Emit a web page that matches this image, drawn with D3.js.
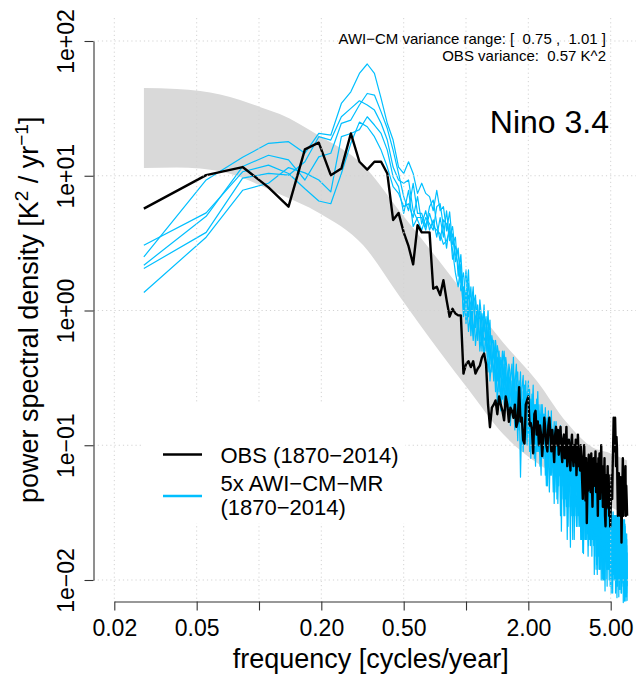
<!DOCTYPE html>
<html><head><meta charset="utf-8">
<script src="https://cdn.jsdelivr.net/npm/d3@7"></script>
<style>body{margin:0;background:#fff}svg{display:block}text{font-family:"Liberation Sans",Arial,Helvetica,sans-serif;fill:#000}</style>
</head><body><svg id="c" width="636" height="675"></svg>
<script>
// frequency grid: k * (1/36) cycles/year, k = 1..216
const freqStep = 1/36;

const obs = [
5.7,10.1,11.6,8.2,5.9,15.7,17.6,10.1,11.3,20.6,
12.7,11.1,12.7,12.7,10.4,4.7,5.3,3.8,3.0,2.2,
4.3,3.8,3.8,3.8,1.45,1.5,1.3,1.68,1.2,0.9,
1.03,0.95,0.92,0.92,0.34,0.40,0.42,0.38,0.42,0.34,
0.37,0.39,0.45,0.48,0.40,0.2,0.136,0.19,0.2,0.215,
0.17,0.23,0.2,0.18,0.153,0.23,0.2,0.149,0.19,0.18,
0.16,0.2,0.137,0.15,0.27,0.15,0.16,0.109,0.103,0.2,
0.215,0.23,0.14,0.146,0.13,0.087,0.17,0.18,0.12,0.15,
0.1,0.14,0.12,0.083,0.11,0.16,0.13,0.1,0.09,0.14,
0.16,0.12,0.09,0.13,0.1,0.075,0.12,0.137,0.1,0.13,
0.085,0.11,0.137,0.09,0.075,0.11,0.12,0.08,0.1,0.137,
0.07,0.09,0.11,0.08,0.065,0.1,0.12,0.085,0.07,0.1,
0.075,0.11,0.06,0.085,0.12,0.07,0.09,0.065,0.1,0.08,
0.055,0.04,0.075,0.1,0.06,0.039,0.08,0.0265,0.05,0.046,
0.085,0.06,0.07,0.045,0.087,0.055,0.035,0.07,0.08,0.05,
0.065,0.09,0.045,0.073,0.06,0.03,0.08,0.05,0.087,0.04,
0.06,0.1,0.045,0.07,0.035,0.065,0.05,0.08,0.03,0.025,
0.06,0.034,0.045,0.07,0.04,0.06,0.03,0.05,0.025,0.034,
0.045,0.06,0.04,0.07,0.1,0.16,0.09,0.12,0.16,0.109,
0.07,0.115,0.094,0.05,0.03,0.04,0.062,0.045,0.054,0.03,
0.058,0.04,0.019,0.035,0.05,0.08,0.03,0.045,0.062,0.038,
0.055,0.07,0.03,0.05,0.04,0.03];

const awi1 = [
3.05,5.3,10.7,12.0,10.4,8.0,6.5,6.2,10.4,17.4,
25,23.1,19.5,15.5,11.6,8.3,7.4,5.9,6.2,4.9,
7.0,4.4,5.5,3.95,4.7,3.5,4.9,3.5,5.5,3.3,
3.7,2.3,2.9,1.6,1.9,1.1,1.6,0.8,1.3,0.75,
1.1,0.6,0.95,0.7,0.9,0.45,0.7,0.55,0.3,0.6,
0.42,0.25,0.45,0.38,0.5,0.3,0.22,0.4,0.33,0.18,
0.35,0.27,0.4,0.2,0.3,0.15,0.26,0.33,0.12,0.24,
0.2,0.3,0.14,0.22,0.17,0.28,0.1,0.2,0.15,0.25,
0.11,0.17,0.08,0.2,0.14,0.09,0.19,0.12,0.16,0.07,
0.15,0.11,0.18,0.08,0.13,0.06,0.1,0.15,0.085,0.12,
0.05,0.1,0.14,0.07,0.11,0.04,0.09,0.12,0.06,0.1,
0.05,0.085,0.035,0.09,0.07,0.1,0.04,0.075,0.055,0.09,
0.03,0.07,0.05,0.085,0.04,0.065,0.025,0.07,0.05,0.08,
0.03,0.06,0.045,0.02,0.055,0.07,0.03,0.05,0.065,0.025,
0.045,0.06,0.02,0.05,0.035,0.06,0.02,0.045,0.03,0.055,
0.015,0.04,0.05,0.025,0.045,0.018,0.035,0.05,0.02,0.04,
0.012,0.035,0.045,0.02,0.03,0.04,0.014,0.035,0.025,0.04,
0.01,0.03,0.02,0.035,0.015,0.03,0.022,0.035,0.009,0.025,
0.03,0.014,0.028,0.02,0.032,0.011,0.025,0.018,0.03,0.008,
0.022,0.028,0.012,0.026,0.018,0.03,0.0075,0.022,0.015,0.028,
0.01,0.02,0.026,0.009,0.02,0.027,0.012,0.024,0.007,0.018,
0.025,0.015,0.011,0.02,0.008,0.016];

const awi2 = [
2.5,9.3,13.7,17.4,17.9,14.7,20.6,20.0,34.4,42,
57.5,67.5,57.5,37.5,24.5,18.4,11.6,10.4,12.7,10.4,
7.4,8.8,7.4,7.0,5.5,7.8,5.5,5.9,3.9,5.4,
3.1,3.5,1.8,2.6,1.2,2.0,0.9,1.5,0.65,1.2,
0.8,1.05,0.5,0.85,0.55,1.0,0.4,0.65,0.5,0.3,
0.55,0.45,0.2,0.4,0.28,0.45,0.35,0.18,0.3,0.4,
0.2,0.3,0.15,0.28,0.2,0.35,0.12,0.25,0.18,0.3,
0.1,0.2,0.26,0.13,0.24,0.15,0.2,0.12,0.22,0.09,
0.18,0.13,0.2,0.1,0.17,0.12,0.07,0.15,0.1,0.18,
0.09,0.14,0.06,0.12,0.09,0.15,0.07,0.12,0.04,0.1,
0.13,0.06,0.1,0.08,0.05,0.1,0.075,0.03,0.09,0.065,
0.11,0.045,0.08,0.06,0.09,0.03,0.06,0.08,0.04,0.1,
0.05,0.035,0.075,0.06,0.07,0.035,0.08,0.04,0.06,0.02,
0.055,0.07,0.03,0.06,0.03,0.045,0.06,0.02,0.05,0.04,
0.065,0.02,0.045,0.03,0.055,0.025,0.04,0.06,0.018,0.035,
0.045,0.02,0.04,0.05,0.02,0.04,0.03,0.012,0.035,0.045,
0.02,0.03,0.015,0.04,0.025,0.032,0.012,0.03,0.04,0.015,
0.025,0.035,0.009,0.028,0.03,0.02,0.01,0.028,0.035,0.015,
0.022,0.012,0.03,0.024,0.01,0.026,0.03,0.015,0.02,0.027,
0.009,0.024,0.018,0.03,0.012,0.022,0.026,0.0085,0.02,0.016,
0.028,0.011,0.022,0.018,0.026,0.0095,0.02,0.015,0.028,0.01,
0.02,0.0075,0.018,0.012,0.022,0.009];

const awi3 = [
2.17,5.0,11.7,14.2,13.1,9.3,13.8,14.7,24.5,25.9,
33.5,40.8,39.7,29.8,22.4,15.5,10.4,7.0,5.5,8.8,
5.25,5.25,4.2,5.9,6.6,4.4,3.3,4.7,4.4,3.5,
4.2,2.6,2.2,1.4,1.5,0.8,1.3,1.1,0.6,0.9,
1.0,0.5,0.75,0.6,0.65,0.35,0.55,0.4,0.5,0.25,
0.45,0.3,0.38,0.22,0.35,0.22,0.3,0.25,0.16,0.3,
0.22,0.13,0.25,0.19,0.13,0.24,0.2,0.09,0.22,0.15,
0.25,0.12,0.18,0.1,0.2,0.12,0.16,0.07,0.17,0.13,
0.09,0.16,0.11,0.14,0.08,0.13,0.1,0.05,0.12,0.09,
0.13,0.06,0.1,0.085,0.045,0.09,0.12,0.06,0.1,0.037,
0.08,0.06,0.1,0.023,0.07,0.09,0.05,0.075,0.04,0.085,
0.065,0.025,0.07,0.05,0.0175,0.06,0.045,0.07,0.03,0.055,
0.07,0.04,0.025,0.06,0.05,0.03,0.06,0.045,0.02,0.05,
0.04,0.06,0.0157,0.04,0.045,0.02,0.035,0.05,0.03,0.015,
0.04,0.03,0.05,0.018,0.04,0.03,0.05,0.02,0.035,0.011,
0.03,0.04,0.022,0.035,0.011,0.03,0.022,0.04,0.015,0.025,
0.035,0.01,0.028,0.02,0.035,0.014,0.025,0.02,0.0083,0.028,
0.02,0.012,0.03,0.018,0.025,0.012,0.03,0.02,0.014,0.026,
0.008,0.022,0.016,0.03,0.018,0.022,0.012,0.028,0.015,0.02,
0.025,0.01,0.0074,0.02,0.025,0.014,0.018,0.028,0.01,0.022,
0.015,0.024,0.008,0.02,0.014,0.022,0.0068,0.02,0.016,0.024,
0.009,0.018,0.007,0.015,0.02,0.01];

const awi4 = [
2.05,3.8,9.6,10.4,10.1,12.7,19.5,18.4,27.4,31.6,
36,33.5,30.7,24.5,18.4,11.6,9.3,8.8,9.3,5.5,
4.7,3.95,4.9,4.4,3.95,5.9,6.2,4.2,2.9,4.4,
2.4,3.0,2.6,1.9,1.0,1.4,0.7,1.0,1.5,0.55,
0.85,0.9,0.55,1.1,0.5,0.75,0.3,0.45,0.35,0.5,
0.2,0.4,0.32,0.5,0.2,0.38,0.25,0.32,0.14,0.25,
0.3,0.17,0.22,0.108,0.25,0.058,0.17,0.22,0.14,0.2,
0.12,0.24,0.09,0.17,0.13,0.19,0.08,0.15,0.1,0.17,
0.14,0.07,0.15,0.12,0.1,0.15,0.06,0.11,0.14,0.08,
0.045,0.1,0.13,0.07,0.11,0.037,0.09,0.07,0.11,0.05,
0.095,0.08,0.03,0.09,0.06,0.08,0.1,0.045,0.065,0.035,
0.075,0.1,0.05,0.065,0.05,0.08,0.065,0.02,0.06,0.045,
0.075,0.055,0.1,0.03,0.06,0.08,0.04,0.055,0.07,0.035,
0.05,0.025,0.065,0.05,0.035,0.06,0.045,0.07,0.022,0.055,
0.035,0.05,0.03,0.065,0.02,0.045,0.035,0.03,0.05,0.04,
0.022,0.05,0.03,0.013,0.035,0.045,0.015,0.025,0.04,0.03,
0.045,0.018,0.025,0.033,0.02,0.01,0.03,0.04,0.018,0.022,
0.033,0.015,0.025,0.012,0.02,0.035,0.025,0.012,0.03,0.02,
0.016,0.032,0.01,0.018,0.025,0.015,0.03,0.01,0.025,0.017,
0.03,0.014,0.024,0.009,0.02,0.027,0.012,0.03,0.018,0.0085,
0.022,0.03,0.014,0.025,0.01,0.018,0.028,0.014,0.022,0.007,
0.026,0.02,0.012,0.018,0.0075,0.014];

const awi5 = [
1.36,3.5,7.8,8.8,11.5,10.5,9.3,7.6,19.5,20.6,
22,27.4,23.8,20.6,15.5,9.8,8.3,5.25,7.8,4.2,
4.9,4.9,3.95,5.25,4.2,3.95,3.7,3.1,3.3,3.9,
2.8,1.9,1.5,2.2,0.9,1.2,2.0,0.65,1.1,1.3,
0.6,1.2,0.8,0.45,0.75,0.6,0.85,0.35,0.6,0.42,
0.3,0.5,0.18,0.3,0.4,0.27,0.18,0.35,0.24,0.2,
0.45,0.15,0.28,0.35,0.16,0.28,0.1,0.2,0.28,0.11,
0.17,0.15,0.22,0.08,0.16,0.22,0.13,0.18,0.09,0.13,
0.2,0.1,0.06,0.16,0.12,0.17,0.11,0.14,0.05,0.12,
0.1,0.07,0.15,0.1,0.07,0.12,0.08,0.045,0.13,0.08,
0.06,0.12,0.07,0.11,0.09,0.055,0.03,0.085,0.11,0.07,
0.02,0.06,0.09,0.11,0.075,0.045,0.09,0.05,0.08,0.02,
0.06,0.09,0.045,0.07,0.025,0.05,0.07,0.03,0.045,0.065,
0.04,0.016,0.05,0.07,0.04,0.05,0.02,0.06,0.04,0.05,
0.018,0.04,0.06,0.035,0.045,0.015,0.035,0.05,0.04,0.02,
0.055,0.03,0.012,0.04,0.03,0.05,0.025,0.03,0.012,0.035,
0.025,0.04,0.03,0.01,0.04,0.02,0.035,0.01,0.03,0.035,
0.018,0.028,0.04,0.02,0.012,0.026,0.018,0.03,0.022,0.035,
0.013,0.025,0.02,0.008,0.022,0.03,0.016,0.022,0.012,0.03,
0.02,0.016,0.03,0.014,0.028,0.01,0.024,0.015,0.025,0.012,
0.02,0.008,0.028,0.016,0.022,0.014,0.025,0.009,0.02,0.028,
0.012,0.022,0.016,0.009,0.018,0.007];

// grey envelope
const bandFreq  = [0.0278,0.04,0.052,0.081,0.101,0.126,0.195,0.318,0.48,0.75,1.03,1.51,2.2,3.08,4.11,4.8,6.0];
const bandUpper = [44.7,44.0,42.5,36.5,32.4,28.7,19.8,12.0,5.4,2.28,1.21,0.58,0.30,0.146,0.096,0.089,0.077];
const bandLower = [11.4,11.5,11.3,9.8,8.5,7.3,5.3,3.06,1.26,0.49,0.258,0.121,0.074,0.054,0.043,0.036,0.031];

const xTicks = [0.02,0.05,0.1,0.2,0.5,1,2,5];
const xTickLabels = ["0.02","0.05","","0.20","0.50","","2.00","5.00"];
const yTicks = [0.01,0.1,1,10,100];
const yTickLabels = ["1e\u221202","1e\u221201","1e+00","1e+01","1e+02"];

const awiSeries = [awi1,awi2,awi3,awi4,awi5];
const varianceText = ["AWI\u2212CM variance range: [  0.75 ,  1.01 ]","OBS variance:  0.57 K^2"];
const legendLabels = ["OBS (1870\u22122014)","5x AWI\u2212CM\u2212MR","(1870\u22122014)"];

const BLUE = "#00BFFF";
const svg = d3.select("#c");
const x = d3.scaleLog().domain([0.02,5]).range([114.3,610.7]);
const y = d3.scaleLog().domain([0.01,100]).range([580,41]);
const plotTop = 18, plotBottom = 601.5, plotLeft = 93.5, plotRight = 648;

const freq = obs.map((_,i)=>(i+1)*freqStep);

// band
const bandData = bandFreq.map((f,i)=>({f, u:bandUpper[i], l:bandLower[i]}));
svg.append("path").datum(bandData)
  .attr("d", d3.area().x(d=>x(d.f)).y0(d=>y(d.l)).y1(d=>y(d.u)).curve(d3.curveMonotoneX))
  .attr("fill","#d9d9d9");

const line = d3.line().x((d,i)=>x(freq[i])).y(d=>y(d));
awiSeries.forEach(s=>{
  svg.append("path").datum(s).attr("d",line).attr("fill","none")
    .attr("stroke",BLUE).attr("stroke-width",1.2).attr("stroke-linejoin","round");
});
svg.append("path").datum(obs).attr("d",line).attr("fill","none")
  .attr("stroke","#000").attr("stroke-width",2.4).attr("stroke-linejoin","round");

// grid (drawn on top, dotted light grey)
const grid = svg.append("g").attr("stroke","#d3d3d3").attr("stroke-width",1).attr("stroke-dasharray","1.2,3");
xTicks.forEach(t=>grid.append("line").attr("x1",x(t)).attr("x2",x(t)).attr("y1",plotTop).attr("y2",plotBottom));
yTicks.forEach(t=>grid.append("line").attr("x1",plotLeft).attr("x2",plotRight).attr("y1",y(t)).attr("y2",y(t)));

// axes
const xa = svg.append("g").attr("transform",`translate(0,${plotBottom})`)
  .call(d3.axisBottom(x).tickValues(xTicks).tickFormat((d,i)=>xTickLabels[i]).tickSizeOuter(0).tickSizeInner(9).tickPadding(9));
const ya = svg.append("g").attr("transform",`translate(${plotLeft},0)`)
  .call(d3.axisLeft(y).tickValues(yTicks).tickFormat((d,i)=>yTickLabels[i]).tickSizeOuter(0).tickSizeInner(9));
[xa,ya].forEach(a=>{a.select(".domain").attr("stroke","#333").attr("stroke-width",1.1);
  a.selectAll(".tick line").attr("stroke","#333").attr("stroke-width",1.1);
  a.selectAll("text").style("font-size","23px").style("font-family",'"Liberation Sans",Arial,sans-serif').attr("fill","#000");});
ya.selectAll(".tick text").attr("x",null).attr("dy",null).attr("text-anchor","middle")
  .attr("transform","translate(-20,0) rotate(-90)");

// axis titles
svg.append("text").attr("x",(plotLeft+plotRight)/2).attr("y",668).attr("text-anchor","middle")
  .style("font-size","27px").text("frequency [cycles/year]");
const yl = svg.append("text").attr("transform",`translate(38,${(plotTop+plotBottom)/2}) rotate(-90)`)
  .attr("text-anchor","middle").style("font-size","27px");
yl.append("tspan").text("power spectral density [K");
yl.append("tspan").attr("dy",-10).style("font-size","19px").text("2");
yl.append("tspan").attr("dy",10).text(" / yr");
yl.append("tspan").attr("dy",-10).style("font-size","19px").text("\u22121");
yl.append("tspan").attr("dy",10).text("]");

// annotation
svg.append("text").attr("x",606).attr("y",44).attr("text-anchor","end").style("font-size","15px").style("white-space","pre").text(varianceText[0]);
svg.append("text").attr("x",606).attr("y",60.5).attr("text-anchor","end").style("font-size","15px").style("white-space","pre").text(varianceText[1]);
svg.append("text").attr("x",609).attr("y",133).attr("text-anchor","end").style("font-size","32px").text("Nino 3.4");

// legend
svg.append("rect").attr("x",143).attr("y",403).attr("width",262).attr("height",120).attr("fill","#fff");
svg.append("line").attr("x1",163).attr("x2",202).attr("y1",454.5).attr("y2",454.5).attr("stroke","#000").attr("stroke-width",2.6);
svg.append("line").attr("x1",163).attr("x2",202).attr("y1",496).attr("y2",496).attr("stroke",BLUE).attr("stroke-width",2.4);
svg.append("text").attr("x",220.5).attr("y",462.5).style("font-size","22px").text(legendLabels[0]);
svg.append("text").attr("x",220.5).attr("y",490.5).style("font-size","22px").text(legendLabels[1]);
svg.append("text").attr("x",220.5).attr("y",515).style("font-size","22px").text(legendLabels[2]);
</script></body></html>
